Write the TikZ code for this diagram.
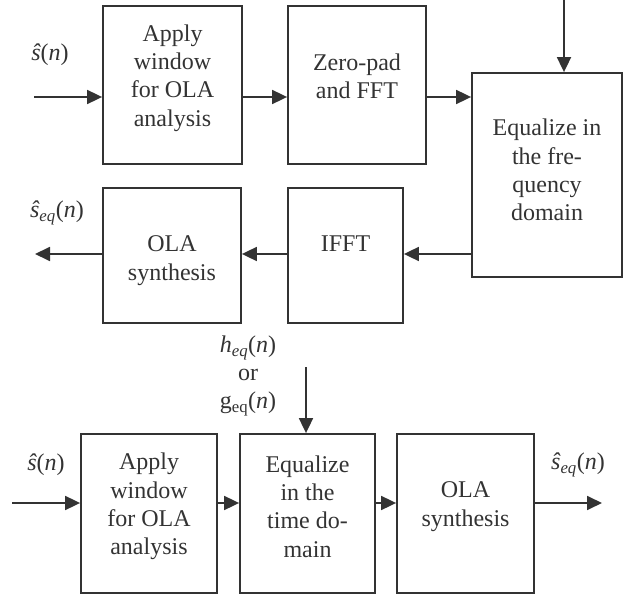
\documentclass[tikz,border=0pt]{standalone}
\usepackage{fontspec}
\setmainfont{Liberation Serif}
\usetikzlibrary{arrows.meta}
\definecolor{ink}{HTML}{333333}
\tikzset{
	block/.style={draw=ink,line width=1.8pt,inner sep=0pt},%
	blocktext/.style={text=ink,align=center,inner sep=0pt,font=\fontsize{24}{28.3}\selectfont},%
	flow/.style={draw=ink,line width=1.8pt,-{Triangle[length=15pt,width=14pt]}},%
	signal/.style={text=ink,align=center,inner sep=0pt,font=\fontsize{24}{28.3}\selectfont},%
}
\def\toprow{97}
\def\midrow{254}
\def\lowrow{503}

\begin{document}
\begin{tikzpicture}[%
		x=1pt,y=-1pt,%
		]
		\useasboundingbox (0,0) rectangle (624,596);
		\node[block,minimum width=139,minimum height=158] (win) at (172.5,85) {};
		\node[block,minimum width=138,minimum height=158] (pad) at (357,85) {};
		\node[block,minimum width=150,minimum height=204] (eqf) at (547,175) {};
		\node[block,minimum width=115,minimum height=135] (ifft) at (345.5,255.5) {};
		\node[block,minimum width=138,minimum height=135] (olas) at (172,255.5) {};
		\node[block,minimum width=136,minimum height=159] (win2) at (149,513.5) {};
		\node[block,minimum width=135,minimum height=159] (eqt) at (307.5,513.5) {};
		\node[block,minimum width=137,minimum height=159] (olas2) at (465.5,513.5) {};
		\node[blocktext] (win-t) at ([yshift=7]win.center) {Apply\\window\\for OLA\\analysis};
		\node[blocktext] (pad-t) at ([yshift=9]pad.center) {Zero-pad\\and FFT};
		\node[blocktext] (eqf-t) at ([yshift=5]eqf.center) {Equalize in\\the fre-\\quency\\domain};
		\node[blocktext] (ifft-t) at ([yshift=12]ifft.center) {IFFT};
		\node[blocktext] (olas-t) at ([yshift=-5]olas.center) {OLA\\synthesis};
		\node[blocktext] (win2-t) at ([yshift=7]win2.center) {Apply\\window\\for OLA\\analysis};
		\node[blocktext] (eqt-t) at ([yshift=7]eqt.center) {Equalize\\in the\\time do-\\main};
		\node[blocktext] (olas2-t) at ([yshift=7]olas2.center) {OLA\\synthesis};
		\node[signal] (sin) at (50,55) {{\itshape ŝ}(\textit{n})};
		\node[signal] (sout) at (57,213) {{\itshape ŝ\textsubscript{eq}}(\textit{n})};
		\node[signal] (heq) at (248,376) {\textit{h}\textsubscript{\itshape eq}(\textit{n})\\or\\g\textsubscript{eq}(\textit{n})};
		\node[signal] (sin2) at (46,465) {{\itshape ŝ}(\textit{n})};
		\node[signal] (sout2) at (578,465) {{\itshape ŝ\textsubscript{eq}}(\textit{n})};
		\coordinate (in) at (34,\toprow);
		\coordinate (coef) at (564,0);
		\coordinate (out) at (35,\midrow);
		\coordinate (in2) at (12,\lowrow);
		\coordinate (out2) at (602,\lowrow);
		\coordinate (coef2) at (306,367);
		\draw[flow] (in) -- (win.west |- in);
		\draw[flow] (win.east |- in) -- (pad.west |- in);
		\draw[flow] (pad.east |- in) -- (eqf.west |- in);
		\draw[flow] (coef) -- (coef |- eqf.north);
		\draw[flow] (eqf.west |- out) -- (ifft.east |- out);
		\draw[flow] (ifft.west |- out) -- (olas.east |- out);
		\draw[flow] (olas.west |- out) -- (out);
		\draw[flow] (in2) -- (win2.west |- in2);
		\draw[flow] (win2.east |- in2) -- (eqt.west |- in2);
		\draw[flow] (eqt.east |- in2) -- (olas2.west |- in2);
		\draw[flow] (olas2.east |- out2) -- (out2);
		\draw[flow] (coef2) -- (coef2 |- eqt.north);
	\end{tikzpicture}
\end{document}
